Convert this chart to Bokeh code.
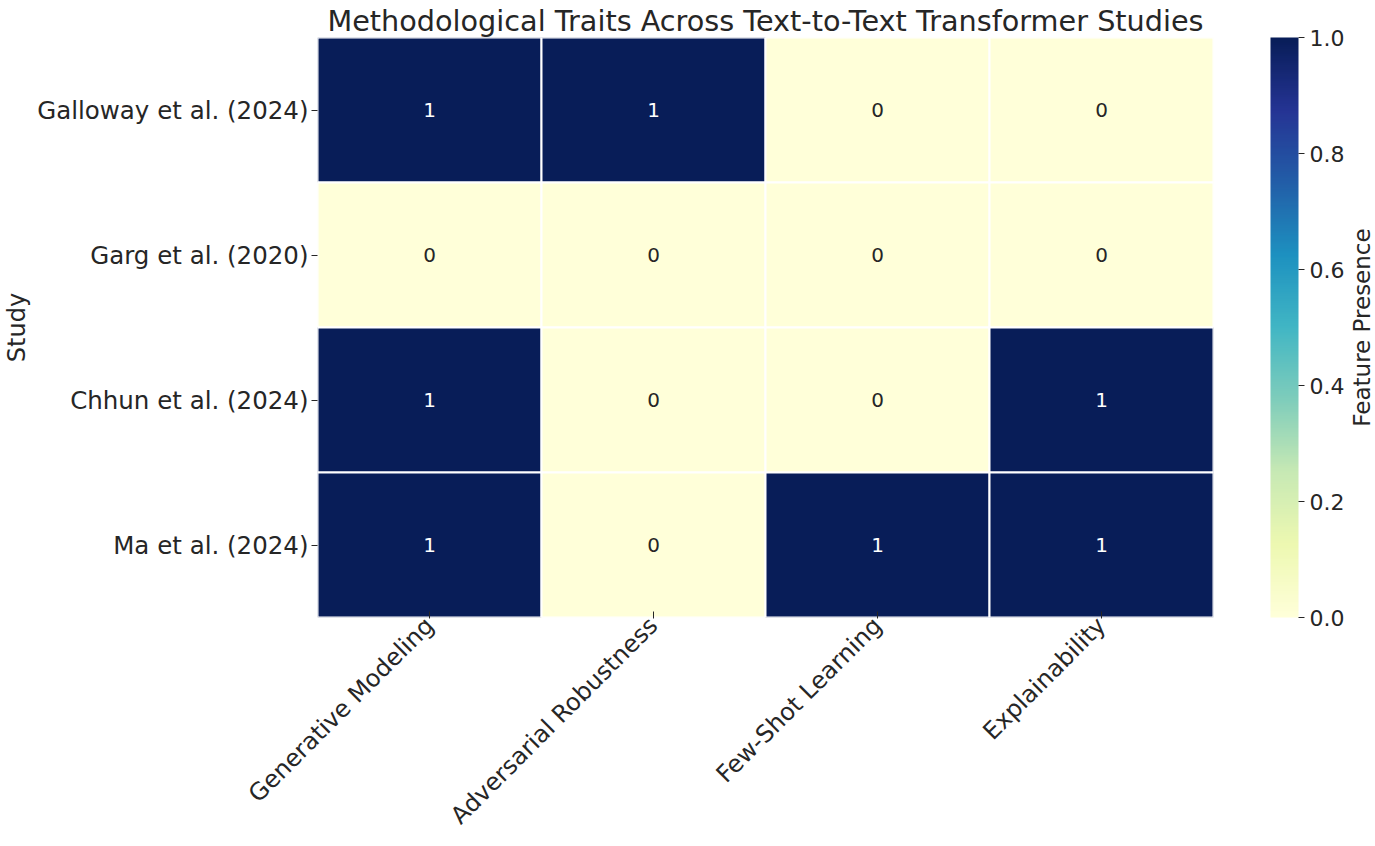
import numpy as np
from bokeh.plotting import figure
from bokeh.layouts import row
from bokeh.models import (ColumnDataSource, LinearColorMapper, ColorBar, FixedTicker,
                          Range1d, PrintfTickFormatter)
from bokeh.transform import transform
from bokeh.core.properties import value
from bokeh.embed import file_html
from bokeh.resources import INLINE
import math

studies = ["Galloway et al. (2024)", "Garg et al. (2020)", "Chhun et al. (2024)", "Ma et al. (2024)"]
features = ["Generative Modeling", "Adversarial Robustness", "Few-Shot Learning", "Explainability"]
galloway = [1, 1, 0, 0]
garg = [0, 0, 0, 0]
chhun = [1, 0, 0, 1]
ma = [1, 0, 1, 1]
matrix = [galloway, garg, chhun, ma]
cbar_ticks = [0.0, 0.2, 0.4, 0.6, 0.8, 1.0]
cbar_title = "Feature Presence"

# YlGnBu colormap (interpolated from brewer anchors)
anchors = ['#ffffd9', '#edf8b1', '#c7e9b4', '#7fcdbb', '#41b6c4', '#1d91c0', '#225ea8', '#253494', '#081d58']
rgb = np.array([[int(c[i:i + 2], 16) for i in (1, 3, 5)] for c in anchors], dtype=float)
pos = np.linspace(0, 1, len(anchors))
t = np.linspace(0, 1, 256)
palette = ["#%02x%02x%02x" % tuple(int(round(np.interp(tt, pos, rgb[:, k]))) for k in range(3)) for tt in t]

xs, ys, vals, labels, tcolors = [], [], [], [], []
for s, row_vals in zip(studies, matrix):
    for f, v in zip(features, row_vals):
        xs.append(f)
        ys.append(s)
        vals.append(v)
        labels.append(str(v))
        tcolors.append("white" if v > 0.5 else "#262626")
src = ColumnDataSource(dict(x=xs, y=ys, v=vals, label=labels, tc=tcolors))

mapper = LinearColorMapper(palette=palette, low=0, high=1)

FONT = "DejaVu Sans"
TOP, BOTTOM = 37, 229
p = figure(width=1347, height=846, x_range=features, y_range=list(reversed(studies)),
           output_backend="svg", toolbar_location=None,
           min_border_left=317, min_border_right=134, min_border_top=TOP, min_border_bottom=BOTTOM,
           title="Methodological Traits Across Text-to-Text Transformer Studies")
p.title.text_font = FONT
p.title.text_font_size = "28.7px"
p.title.text_font_style = "normal"
p.title.align = "center"
p.title.text_color = "#262626"
p.title.standoff = 0
p.title.offset = 0

p.rect(x="x", y="y", width=1, height=1, source=src, fill_color=transform("v", mapper),
       line_color="white", line_width=2)
p.text(x="x", y="y", text="label", source=src, text_color="tc", text_align="center",
       text_baseline="middle", text_font=value(FONT), text_font_size="20px")

p.outline_line_color = None
p.grid.grid_line_color = None
for ax in (p.xaxis[0], p.yaxis[0]):
    ax.axis_line_color = None
    ax.major_tick_line_color = "#262626"
    ax.major_label_standoff = 3
    ax.major_label_text_font = FONT
    ax.major_label_text_color = "#262626"
    ax.axis_label_text_font = FONT
    ax.axis_label_text_font_size = "24px"
    ax.axis_label_text_font_style = "normal"
    ax.axis_label_text_color = "#262626"
p.xaxis.major_tick_out = 1
p.xaxis.major_tick_in = 6
p.xaxis.major_label_text_font_size = "24px"
p.xaxis.major_label_orientation = math.pi / 4
p.yaxis.major_tick_out = 6
p.yaxis.major_tick_in = 0
p.yaxis.major_label_text_font_size = "24.5px"
p.yaxis.axis_label = "Study"
p.yaxis.axis_label_standoff = 3

cb = ColorBar(color_mapper=mapper, ticker=FixedTicker(ticks=cbar_ticks),
              formatter=PrintfTickFormatter(format="%.1f"),
              width=28, height=580, margin=0, padding=0, location=(57, 0),
              major_tick_out=6, major_tick_in=0, major_tick_line_color="#262626",
              major_label_text_font=FONT, major_label_text_font_size="22px",
              major_label_text_color="#262626", bar_line_color=None,
              label_standoff=5, background_fill_alpha=0)
p.add_layout(cb, "right")

# narrow companion figure holding the colour-bar title (reads bottom-to-top)
q = figure(width=28, height=846, x_range=Range1d(0, 1), y_range=Range1d(0, 1),
           output_backend="svg", toolbar_location=None,
           min_border_left=0, min_border_right=0, min_border_top=TOP, min_border_bottom=BOTTOM)
q.axis.visible = False
q.grid.grid_line_color = None
q.outline_line_color = None
q.text(x=[0.5], y=[0.5], text=[cbar_title], angle=math.pi / 2, text_align="center",
       text_baseline="middle", text_font=value(FONT), text_font_size="23px", text_color="#262626")

layout = row(p, q, spacing=0)
open("out.html", "w").write(file_html(layout, INLINE))
